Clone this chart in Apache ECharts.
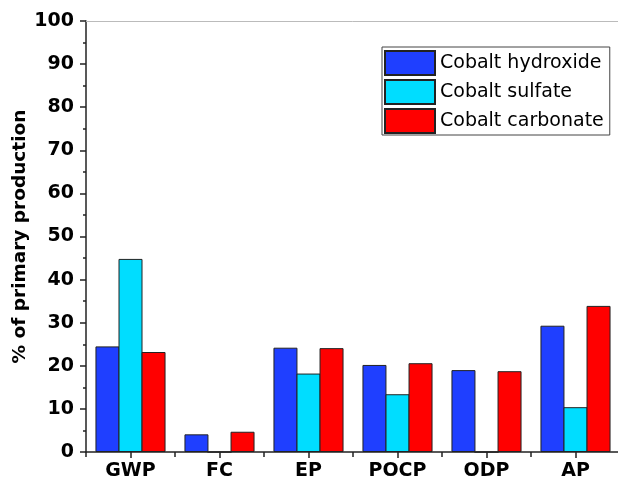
<!DOCTYPE html>
<html>
<head>
<meta charset="utf-8">
<script src="https://cdn.jsdelivr.net/npm/echarts@6/dist/echarts.min.js"></script>
<style>
html,body{margin:0;padding:0;background:#fff;}
#chart{width:618px;height:486px;}
</style>
</head>
<body>
<div id="chart"></div>
<script>
const categories = ['GWP', 'FC', 'EP', 'POCP', 'ODP', 'AP'];
const cobaltHydroxide = [24.5, 4.1, 24.2, 20.2, 19.0, 29.3];
const cobaltSulfate = [44.8, 0, 18.2, 13.4, 0, 10.4];
const cobaltCarbonate = [23.2, 4.7, 24.1, 20.6, 18.75, 33.9];
const seriesNames = ['Cobalt hydroxide', 'Cobalt sulfate', 'Cobalt carbonate'];
const yTicks = [0, 10, 20, 30, 40, 50, 60, 70, 80, 90, 100];
const yAxisTitle = '% of primary production';

const FONT = 'DejaVu Sans';
const colors = ['#1f3fff', '#00ddff', '#ff0000'];

const chart = echarts.init(document.getElementById('chart'), null, {renderer: 'canvas'});

function barSeries(name, data, color) {
  return {
    name: name,
    type: 'bar',
    xAxisIndex: 0,
    data: data,
    barWidth: 24,
    barGap: '-4%',
    itemStyle: {color: color, borderColor: '#222', borderWidth: 1},
    emphasis: {disabled: true}
  };
}

chart.setOption({
  animation: false,
  backgroundColor: '#fff',
  grid: {left: 86, right: -2, top: 21, bottom: 34, containLabel: false, outerBoundsMode: 'none'},
  legend: {
    orient: 'vertical',
    left: 382,
    top: 47,
    padding: [3, 6, 1, 2],
    itemGap: 3,
    itemWidth: 50,
    itemHeight: 24,
    icon: 'rect',
    backgroundColor: '#fff',
    borderColor: '#444',
    borderWidth: 1,
    borderRadius: 0,
    textStyle: {fontFamily: FONT, fontSize: 19, color: '#000'},
    data: seriesNames
  },
  xAxis: [
    {
      type: 'category',
      data: categories,
      position: 'bottom',
      axisLine: {lineStyle: {color: '#222', width: 1.5}},
      axisTick: {show: true, alignWithLabel: false, length: 5, lineStyle: {color: '#222', width: 1.5}},
      axisLabel: {fontFamily: FONT, fontSize: 19, fontWeight: 'bold', color: '#000', margin: 10}
    },
    {
      type: 'category',
      data: categories,
      position: 'bottom',
      axisLine: {show: false},
      axisTick: {show: true, alignWithLabel: true, length: 6, lineStyle: {color: '#222', width: 1.5}},
      axisLabel: {show: false}
    },
    {
      type: 'category',
      data: categories,
      position: 'top',
      axisLine: {show: true, lineStyle: {color: '#bbb', width: 1}},
      axisTick: {show: false},
      axisLabel: {show: false}
    }
  ],
  yAxis: {
    type: 'value',
    min: yTicks[0],
    max: yTicks[yTicks.length - 1],
    interval: 10,
    name: yAxisTitle,
    nameLocation: 'middle',
    nameGap: 56,
    nameMoveOverlap: false,
    nameRotate: 90,
    nameTextStyle: {fontFamily: FONT, fontSize: 18.5, fontWeight: 'bold', color: '#000'},
    axisLine: {show: true, lineStyle: {color: '#222', width: 1.5}},
    axisTick: {show: true, length: 6, lineStyle: {color: '#222', width: 1.5}},
    minorTick: {show: true, splitNumber: 2, length: 3, lineStyle: {color: '#222', width: 1.5}},
    splitLine: {show: false},
    axisLabel: {fontFamily: FONT, fontSize: 19, fontWeight: 'bold', color: '#000', margin: 12}
  },
  series: [
    barSeries(seriesNames[0], cobaltHydroxide, colors[0]),
    barSeries(seriesNames[1], cobaltSulfate, colors[1]),
    barSeries(seriesNames[2], cobaltCarbonate, colors[2])
  ]
});
</script>
</body>
</html>
